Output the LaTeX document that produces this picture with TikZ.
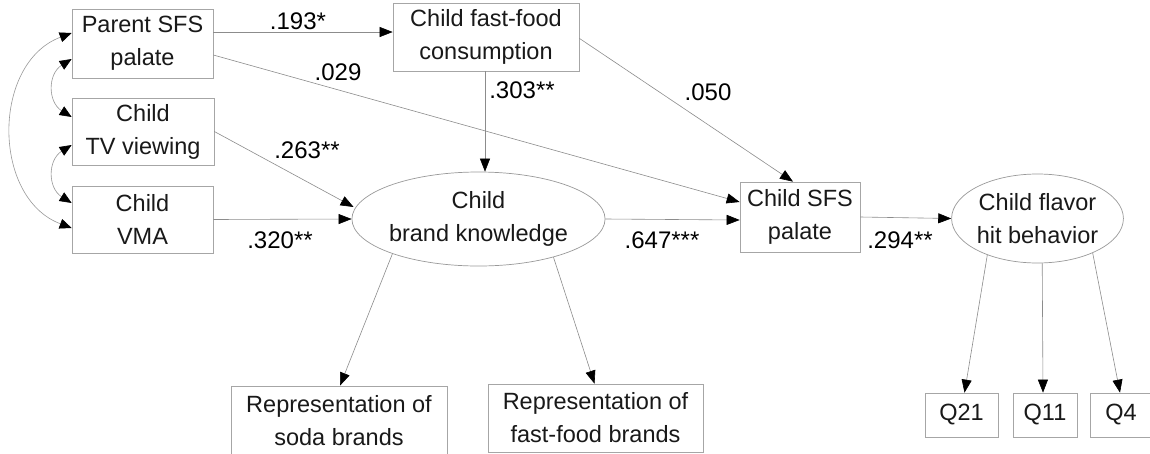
\documentclass[tikz,border=0pt]{standalone}
\usepackage{fontspec}
\setmainfont{Liberation Sans}
\usetikzlibrary{arrows.meta,shapes.geometric}
\begin{document}
\begin{tikzpicture}[x=1pt,y=-1pt,
  txt/.style={font=\fontsize{23.5}{33}\selectfont, text=black!90},
  box/.style={txt, draw=black!35, line width=0.7pt, rectangle, align=center, inner sep=0pt},
  oval/.style={txt, draw=black!40, line width=0.7pt, ellipse, align=center, inner sep=0pt},
  lbl/.style={font=\fontsize{24}{28}\selectfont, inner sep=0pt},
  path/.style={draw=black!45, line width=0.6pt, -{Triangle[length=13pt,width=10pt,color=black]}},
  dbl/.style={draw=black!40, line width=0.6pt, {Triangle[length=12pt,width=10pt,color=black]}-{Triangle[length=12pt,width=10pt,color=black]}}
]
\useasboundingbox (0,0) rectangle (1150,453);
\fill[white] (0,0) rectangle (1150,453);

\node[box, minimum width=141, minimum height=69] (par) at (142.5,43.5) {Parent SFS\\palate};
\node[box, minimum width=142, minimum height=67] (tv) at (143,131.5) {Child\\TV viewing};
\node[box, minimum width=141, minimum height=67] (vma) at (142.5,219.5) {Child\\VMA};
\node[box, minimum width=186, minimum height=68] (ff) at (486,37) {Child fast-food\\consumption};
\node[oval, minimum width=227, minimum height=94] (bk) at (478.5,219) {Child\\brand knowledge};
\node[box, minimum width=120, minimum height=70] (sfs) at (800,217) {Child SFS\\palate};
\node[oval, minimum width=169, minimum height=89] (fh) at (1037.5,218.5) {Child flavor\\hit behavior};
\node[box, minimum width=73, minimum height=44] (q21) at (961.5,415) {Q21};
\node[box, minimum width=64, minimum height=44] (q11) at (1045,415) {Q11};
\node[box, minimum width=62, minimum height=44] (q4) at (1121,415) {Q4};
\node[box, minimum width=216, minimum height=70] (soda) at (339,421) {Representation of\\soda brands};
\node[box, minimum width=215, minimum height=68] (ffb) at (595.5,418) {Representation of\\fast-food brands};

% paths
\draw[path] (par.east |- 0,32) -- (ff.west |- 0,32);
\draw[path] ([yshift=-11.5]par.east) -- ([yshift=15]sfs.west);
\draw[path] (ff.south -| 485,0) -- (bk.north -| 485,0);
\draw[path] ([yshift=33]ff.south east) -- ([xshift=-7]sfs.north);
\draw[path] (tv.east) -- ([xshift=2,yshift=12]bk.west);
\draw[path] (vma.east) -- (bk.west);
\draw[path] (bk.east) -- ([yshift=-3]sfs.west);
\draw[path] (sfs.east) -- (fh.west);
\draw[path] (bk.202.6) -- ([xshift=1]soda.north);
\draw[path] (bk.333.6) -- ([xshift=-1]ffb.north);
\draw[path] (fh.216.4) -- ([xshift=3]q21.north);
\draw[path] (fh.276) -- ([xshift=-2]q11.north);
\draw[path] (fh.328) -- ([xshift=-1]q4.north);

% correlations
\draw[dbl] ([yshift=10.5]par.west) .. controls +(-80,30) and +(-80,-30) .. ([yshift=-8.5]vma.west);
\draw[dbl] ([yshift=-15.5]par.west) .. controls +(-24,15) and +(-24,-15) .. ([yshift=14.5]tv.west);
\draw[dbl] ([yshift=-13.5]tv.west) .. controls +(-24,15) and +(-24,-15) .. ([yshift=16.5]vma.west);

% labels
\node[lbl] (l1) at (298,21) {.193*};
\node[lbl] (l2) at (338,72) {.029};
\node[lbl] (l3) at (522,90) {.303**};
\node[lbl] (l4) at (708,92) {.050};
\node[lbl] (l5) at (307,150) {.263**};
\node[lbl] (l6) at (280,240) {.320**};
\node[lbl] (l7) at (662,240) {.647***};
\node[lbl] (l8) at (900,240) {.294**};
\end{tikzpicture}
\end{document}
